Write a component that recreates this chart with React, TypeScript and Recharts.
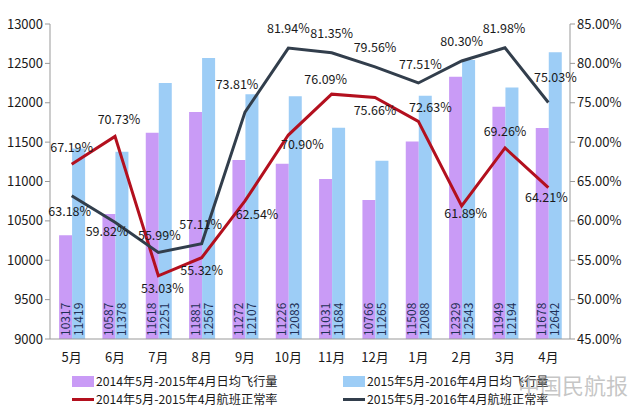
import React from "react";
import {
  ComposedChart,
  Bar,
  Line,
  XAxis,
  YAxis,
  LabelList,
} from "recharts";

// 日均飞行量 + 航班正常率, two years side by side.

const months = ["5月", "6月", "7月", "8月", "9月", "10月", "11月", "12月", "1月", "2月", "3月", "4月"];
const flights1415 = [10317, 10587, 11618, 11881, 11272, 11226, 11031, 10766, 11508, 12329, 11949, 11678];
const flights1516 = [11419, 11378, 12251, 12567, 12107, 12083, 11684, 11265, 12088, 12543, 12194, 12642];
const rate1415 = [67.19, 70.73, 53.03, 55.32, 62.54, 70.9, 76.09, 75.66, 72.63, 61.89, 69.26, 64.21];
const rate1516 = [63.18, 59.82, 55.99, 57.11, 73.81, 81.94, 81.35, 79.56, 77.51, 80.3, 81.98, 75.03];
const leftTicks = [9000, 9500, 10000, 10500, 11000, 11500, 12000, 12500, 13000];
const rightTicks = [45, 50, 55, 60, 65, 70, 75, 80, 85];
// category boundaries, for the Excel-style tick marks between months
const boundaryTicks = [0, 1, 2, 3, 4, 5, 6, 7, 8, 9, 10, 11, 12];

const NAME_A = "2014年5月-2015年4月日均飞行量";
const NAME_B = "2015年5月-2016年4月日均飞行量";
const NAME_C = "2014年5月-2015年4月航班正常率";
const NAME_D = "2015年5月-2016年4月航班正常率";

const PURPLE = "#C99BF6";
const BLUE = "#9DCDF6";
const RED = "#B3101E";
const SLATE = "#323E4C";
const FONT = "'Noto Sans CJK SC', 'Noto Sans', sans-serif";

// label nudges (dx, dy) like the hand-placed Excel labels
const redLabelOffset: [number, number][] = [
  [0, -12], [4, -12], [4, 17], [0, 17], [12, 18], [14, 14],
  [-6, -10], [0, 17], [12, -9], [4, 12], [0, -12], [-2, 14],
];
const slateLabelOffset: [number, number][] = [
  [-2, 20], [-8, 14], [1, -12], [-1, -15], [-8, -23], [0, -15],
  [0, -15], [0, -15], [2, -14], [0, -15], [-1, -15], [7, -21],
];

const data = months.map((m, i) => ({
  month: m,
  a: flights1415[i],
  b: flights1516[i],
  c: rate1415[i],
  d: rate1516[i],
}));

function BarValue(props: any) {
  const { x, y, width, height, value } = props;
  const cx = x + width / 2 + 4;
  const by = y + height - 3;
  return (
    <text
      x={cx}
      y={by}
      transform={`rotate(-90 ${cx} ${by})`}
      fontSize={12}
      fill="#1F2F55"
      fontFamily={FONT}
      textAnchor="start"
    >
      {value}
    </text>
  );
}

function pctLabel(offsets: [number, number][]) {
  return (props: any) => {
    const { x, y, value, index } = props;
    const [dx, dy] = offsets[index] || [0, -12];
    return (
      <text
        x={x + dx}
        y={y + dy}
        textAnchor="middle"
        fontSize={12.5}
        fill="#1a1a1a"
        fontFamily={FONT}
      >
        {Number(value).toFixed(2)}%
      </text>
    );
  };
}

function LegendBox() {
  const item = (label: string, kind: "box" | "line", color: string) => (
    <div style={{ display: "flex", alignItems: "center", height: 18, lineHeight: "14px" }}>
      {kind === "box" ? (
        <span style={{ width: 22, height: 11, background: color, marginRight: 2 }} />
      ) : (
        <span style={{ width: 22, height: 3, background: color, marginRight: 2 }} />
      )}
      <span style={{ fontSize: 12.2, color: "#1a1a1a", fontFamily: FONT }}>{label}</span>
    </div>
  );
  return (
    <div
      style={{
        position: "absolute",
        left: 72,
        top: 372,
        display: "grid",
        gridTemplateColumns: "271px 260px",
      }}
    >
      {item(NAME_A, "box", PURPLE)}
      {item(NAME_B, "box", BLUE)}
      {item(NAME_C, "line", RED)}
      {item(NAME_D, "line", SLATE)}
    </div>
  );
}

export default function App() {
  return (
    <div style={{ position: "absolute", left: 0, top: 0, width: 640, height: 412, background: "#fff" }}>
      <ComposedChart
        width={640}
        height={412}
        data={data}
        margin={{ top: 24, right: 0, left: 0, bottom: 53 }}
        barGap={0}
        barCategoryGap="21%"
      >
        <XAxis
          xAxisId="bounds"
          type="number"
          domain={[0, 12]}
          ticks={boundaryTicks}
          tick={false}
          axisLine={false}
          tickLine={{ stroke: "#999" }}
          tickSize={5}
          height={0}
        />
        <XAxis
          dataKey="month"
          axisLine={{ stroke: "#999" }}
          tickLine={false}
          tick={{ fontSize: 13, fill: "#1a1a1a", fontFamily: FONT, dy: 6 }}
          height={20}
        />
        <YAxis
          yAxisId="left"
          domain={[9000, 13000]}
          ticks={leftTicks}
          width={50}
          axisLine={{ stroke: "#999" }}
          tickLine={{ stroke: "#999" }}
          tickSize={5}
          tick={{ fontSize: 13, fill: "#1a1a1a", fontFamily: FONT }}
          interval={0}
          allowDataOverflow
        />
        <YAxis
          yAxisId="right"
          orientation="right"
          domain={[45, 85]}
          ticks={rightTicks}
          width={70}
          axisLine={{ stroke: "#999" }}
          tickLine={{ stroke: "#999" }}
          tickSize={5}
          tickFormatter={(v: number) => `${v.toFixed(2)}%`}
          tick={{ fontSize: 13, fill: "#1a1a1a", fontFamily: FONT }}
          interval={0}
        />
        <Bar yAxisId="left" dataKey="a" name={NAME_A} fill={PURPLE} isAnimationActive={false}>
          <LabelList dataKey="a" content={BarValue} />
        </Bar>
        <Bar yAxisId="left" dataKey="b" name={NAME_B} fill={BLUE} isAnimationActive={false}>
          <LabelList dataKey="b" content={BarValue} />
        </Bar>
        <Line
          yAxisId="right"
          dataKey="c"
          name={NAME_C}
          stroke={RED}
          strokeWidth={3}
          dot={false}
          type="linear"
          isAnimationActive={false}
        >
          <LabelList dataKey="c" content={pctLabel(redLabelOffset)} />
        </Line>
        <Line
          yAxisId="right"
          dataKey="d"
          name={NAME_D}
          stroke={SLATE}
          strokeWidth={3}
          dot={false}
          type="linear"
          isAnimationActive={false}
        >
          <LabelList dataKey="d" content={pctLabel(slateLabelOffset)} />
        </Line>
      </ComposedChart>
      <LegendBox />
      <div
        style={{
          position: "absolute",
          left: 518,
          top: 368,
          fontSize: 22,
          color: "rgba(160,160,160,0.6)",
          fontFamily: FONT,
        }}
      >
        中国民航报
      </div>
    </div>
  );
}
